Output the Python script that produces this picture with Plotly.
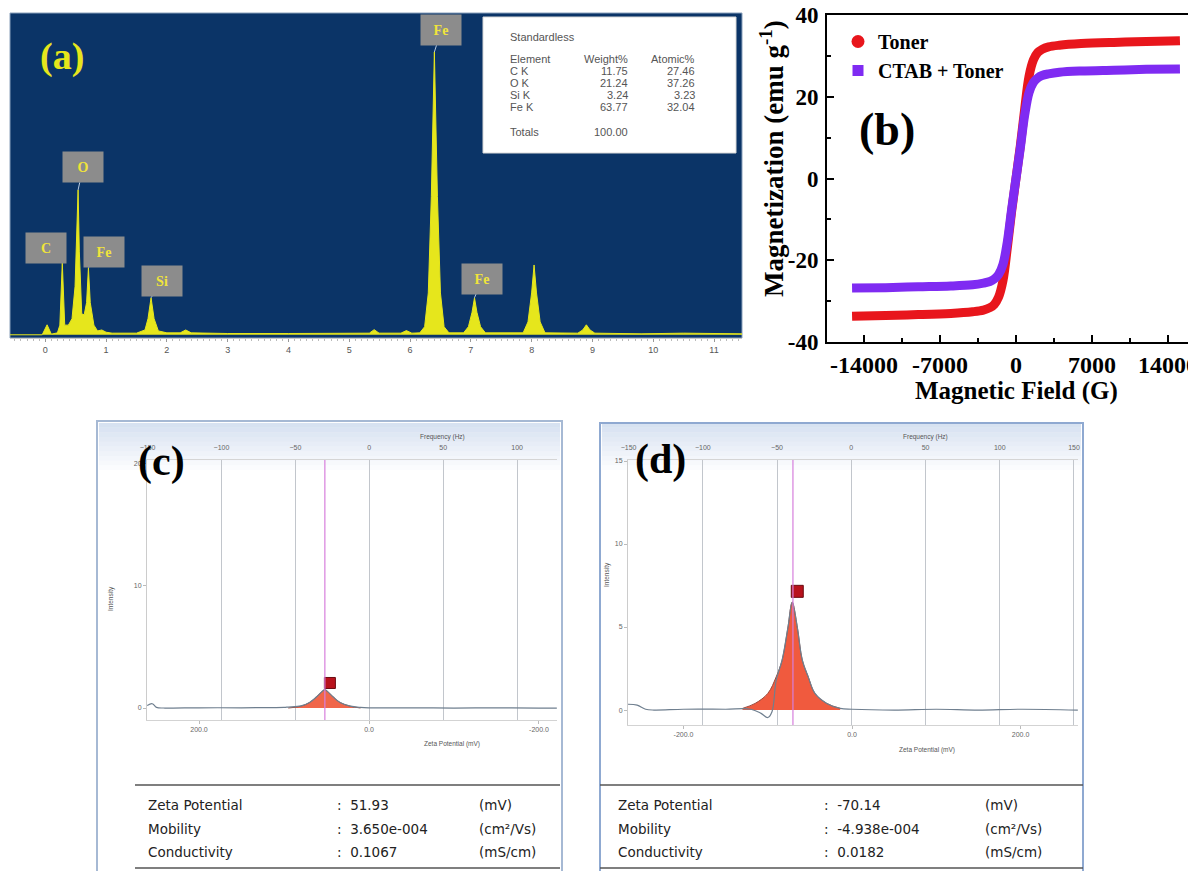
import plotly.graph_objects as go

# page has an 8px body margin: the figure is drawn 8px in from the top-left corner
OFF = 8
W, H = 1196 - OFF, 871 - OFF

def px(x):
    return (x - OFF) / W

def py(y):
    return 1 - (y - OFF) / H

# ---------------- data ----------------
# (a) EDS spectrum (keV, counts)
eds_energy = [-0.58, -0.05, 0.03, 0.1, 0.2, 0.24, 0.28, 0.32, 0.38, 0.44, 0.49, 0.52, 0.54, 0.56, 0.6,
              0.64, 0.68, 0.71, 0.74, 0.8, 0.86, 0.93, 1.0, 1.1, 1.5, 1.64, 1.69, 1.74, 1.79, 1.86,
              2.0, 2.22, 2.31, 2.4, 3.0, 4.0, 5.0, 5.33, 5.41, 5.49, 5.85, 5.94, 6.03, 6.16, 6.24,
              6.30, 6.35, 6.40, 6.45, 6.50, 6.56, 6.64, 6.88, 6.96, 7.02, 7.06, 7.10, 7.16, 7.24,
              7.86, 7.94, 8.0, 8.04, 8.08, 8.14, 8.22, 8.76, 8.84, 8.9, 8.96, 9.04, 9.8, 10.5, 11.46]
eds_counts = [0, 0, 31, 2, 6, 30, 224, 30, 30, 50, 150, 330, 450, 260, 65,
              62, 100, 208, 100, 30, 12, 15, 8, 5, 5, 15, 50, 115, 50, 12,
              6, 6, 15, 6, 4, 4, 4, 5, 16, 5, 5, 13, 5, 6, 25,
              130, 430, 879, 430, 130, 25, 6, 6, 25, 70, 115, 70, 25, 6,
              6, 40, 130, 217, 130, 40, 6, 5, 15, 31, 15, 5, 3, 5, 3]
eds_ticks = list(range(12))
eds_labels = ["C", "O", "Fe", "Si", "Fe", "Fe"]
eds_label_energy = [0.28, 0.54, 0.71, 1.74, 6.40, 7.06]
eds_label_counts = [224, 450, 208, 115, 879, 115]

table_elements = ["C K", "O K", "Si K", "Fe K"]
table_weight = ["11.75", "21.24", "3.24", "63.77"]
table_atomic = ["27.46", "37.26", "3.23", "32.04"]

# (b) magnetization loops
field_G = [-15100, -12000, -9000, -6000, -4000, -3000, -2400, -2000, -1600, -1200, -800, -400, 0,
           400, 800, 1200, 1600, 2000, 2400, 3000, 4000, 6000, 9000, 12000, 15100]
toner_M = [-33.7, -33.5, -33.3, -33.0, -32.6, -32.2, -31.6, -30.8, -29.0, -25.0, -17.0, -8.0, 0,
           8.0, 17.0, 25.0, 29.0, 30.8, 31.6, 32.2, 32.6, 33.0, 33.3, 33.5, 33.7]
ctab_M = [-26.8, -26.7, -26.5, -26.3, -26.0, -25.6, -25.2, -24.6, -23.5, -21.0, -15.5, -7.5, 0,
          7.5, 15.5, 21.0, 23.5, 24.6, 25.2, 25.6, 26.0, 26.3, 26.5, 26.7, 26.8]

# (c) zeta potential distribution, sample 1
zc_line_x = [261, 255, 250, 240, 200, 150, 120, 100, 95, 80, 70, 62, 56, 52, 48, 42, 34, 22, 10,
             0, -50, -100, -150, -200, -221]
zc_line_y = [0.2, 0.35, 0.05, 0.0, 0.02, 0.02, 0.03, 0.05, 0.08, 0.18, 0.45, 0.9, 1.3, 1.5, 1.3, 0.9,
             0.45, 0.15, 0.05, 0.02, 0.02, 0.0, 0.02, 0.0, 0.0]
zc_peak_x = [95, 80, 70, 62, 56, 52, 48, 42, 34, 22, 10]
zc_peak_y = [0.0, 0.15, 0.45, 0.9, 1.3, 1.5, 1.3, 0.9, 0.45, 0.15, 0.0]
zc_marker = (46, 2.05)
zc_value = 51.93

# (d) zeta potential distribution, sample 2
zd_line_x = [-266, -255, -245, -235, -200, -150, -120, -108, -100, -95, -90, -83, -76, -71, -65, -59,
             -52, -44, -30, -14, 0, 50, 100, 150, 200, 268]
zd_line_y = [0.35, 0.3, 0.05, 0.0, 0.05, 0.05, 0.05, -0.2, -0.45, -0.1, 1.8, 3.0, 5.0, 6.5, 5.0, 3.0,
             2.0, 1.0, 0.4, 0.1, 0.05, 0.0, 0.05, 0.0, 0.05, 0.0]
zd_peak_x = [-130, -115, -100, -90, -83, -76, -71, -65, -59, -52, -44, -30, -14]
zd_peak_y = [0.1, 0.4, 1.0, 2.0, 3.0, 5.0, 6.5, 5.0, 3.0, 2.0, 1.0, 0.4, 0.1]
zd_marker = (-65, 7.15)
zd_value = -70.14

zeta_rows = ["Zeta Potential", "Mobility", "Conductivity"]
zc_vals = [":  51.93", ":  3.650e-004", ":  0.1067"]
zd_vals = [":  -70.14", ":  -4.938e-004", ":  0.0182"]
zeta_units = ["(mV)", "(cm\u00b2/Vs)", "(mS/cm)"]

# ---------------- styles ----------------
NAVY = "#0b3467"
YEL = "#e6e61c"
RED = "#e8161c"
PURPLE = "#7f2bf2"
SERIF = "Liberation Serif"
GRAYTXT = "#666666"

fig = go.Figure()

# (a)
fig.add_trace(go.Scatter(x=eds_energy, y=eds_counts, xaxis="x", yaxis="y", mode="lines",
                         line=dict(color=YEL, width=1), fill="tozeroy", fillcolor=YEL,
                         showlegend=False, hoverinfo="skip"))

# (b)
fig.add_trace(go.Scatter(x=field_G, y=toner_M, xaxis="x2", yaxis="y2", mode="lines",
                         line=dict(color=RED, width=9, shape="spline"), showlegend=False))
fig.add_trace(go.Scatter(x=field_G, y=ctab_M, xaxis="x2", yaxis="y2", mode="lines",
                         line=dict(color=PURPLE, width=9, shape="spline"), showlegend=False))
fig.add_trace(go.Scatter(x=[None], y=[None], xaxis="x2", yaxis="y2", mode="markers", name="Toner",
                         marker=dict(symbol="circle", size=13, color=RED)))
fig.add_trace(go.Scatter(x=[None], y=[None], xaxis="x2", yaxis="y2", mode="markers", name="CTAB + Toner",
                         marker=dict(symbol="square", size=11, color=PURPLE)))

# (c)
fig.add_trace(go.Scatter(x=zc_peak_x, y=zc_peak_y, xaxis="x3", yaxis="y3", mode="lines",
                         line=dict(color="#9a4a3c", width=1, shape="spline"), fill="tozeroy",
                         fillcolor="#f0664a", showlegend=False))
fig.add_trace(go.Scatter(x=zc_line_x, y=zc_line_y, xaxis="x3", yaxis="y3", mode="lines",
                         line=dict(color="#6f7f8f", width=1.2, shape="spline"), showlegend=False))
fig.add_trace(go.Scatter(x=[zc_marker[0]], y=[zc_marker[1]], xaxis="x3", yaxis="y3", mode="markers",
                         marker=dict(symbol="square", size=11, color="#b8121c",
                                     line=dict(color="#6a0a10", width=1)), showlegend=False))
# frequency axis holder (no visible mark)
fig.add_trace(go.Scatter(x=[0], y=[0], xaxis="x4", yaxis="y3", mode="markers",
                         marker=dict(size=1, opacity=0), showlegend=False, hoverinfo="skip"))

# (d)
fig.add_trace(go.Scatter(x=zd_peak_x, y=zd_peak_y, xaxis="x5", yaxis="y4", mode="lines",
                         line=dict(color="#9a4a3c", width=1, shape="spline"), fill="tozeroy",
                         fillcolor="#f05a3e", showlegend=False))
fig.add_trace(go.Scatter(x=zd_line_x, y=zd_line_y, xaxis="x5", yaxis="y4", mode="lines",
                         line=dict(color="#6f7f8f", width=1.2, shape="spline"), showlegend=False))
fig.add_trace(go.Scatter(x=[zd_marker[0]], y=[zd_marker[1]], xaxis="x5", yaxis="y4", mode="markers",
                         marker=dict(symbol="square", size=12, color="#b8121c",
                                     line=dict(color="#6a0a10", width=1)), showlegend=False))
fig.add_trace(go.Scatter(x=[0], y=[0], xaxis="x6", yaxis="y4", mode="markers",
                         marker=dict(size=1, opacity=0), showlegend=False, hoverinfo="skip"))

small_font = dict(family="Liberation Sans", size=7, color=GRAYTXT)

layout_axes = dict(
    xaxis=dict(domain=[px(10), px(742)], range=[-0.58, 11.46], anchor="y", tickvals=eds_ticks,
               tickfont=dict(family="Liberation Sans", size=9, color="#555"), ticks="outside",
               ticklen=3, tickcolor="#999", showline=True, linecolor="#c8c8c8", showgrid=False,
               zeroline=False, automargin=False,
               minor=dict(ticks="outside", dtick=0.1, ticklen=2, tickcolor="#bbb")),
    yaxis=dict(domain=[py(338), py(13)], range=[-10, 1000], anchor="x", visible=False, automargin=False),
    xaxis2=dict(domain=[px(827), px(1196)], range=[-17408, 16580], anchor="y2",
                tickvals=[-14000, -7000, 0, 7000, 14000],
                ticktext=["-14000", "-7000", "0", "7000", "14000"],
                ticks="inside", ticklen=7, tickwidth=2, tickcolor="black",
                showline=True, linewidth=2, linecolor="black", mirror=True, showgrid=False,
                zeroline=False, automargin=False, ticklabeloverflow="allow",
                tickfont=dict(family=SERIF, size=24, color="black", weight="bold"),
                minor=dict(ticks="inside", tickvals=[-10500, -3500, 3500, 10500], ticklen=4,
                           tickwidth=2, tickcolor="black")),
    yaxis2=dict(domain=[py(342), py(15)], range=[-40, 40], anchor="x2",
                tickvals=[-40, -20, 0, 20, 40], ticktext=["-40", "-20", "0", "20", "40"],
                ticks="inside", ticklen=7, tickwidth=2, tickcolor="black",
                showline=True, linewidth=2, linecolor="black", showgrid=False, zeroline=False,
                automargin=False, ticklabelstandoff=2, ticklabeloverflow="allow",
                tickfont=dict(family=SERIF, size=23, color="black", weight="bold"),
                minor=dict(ticks="inside", tickvals=[-30, -10, 10, 30], ticklen=4,
                           tickwidth=2, tickcolor="black")),
    xaxis3=dict(domain=[px(147), px(557)], range=[261.2, -221.2], anchor="y3",
                tickvals=[200, 0, -200], ticktext=["200.0", "0.0", "-200.0"],
                ticks="outside", ticklen=3, tickcolor="#bbb", showline=True, linecolor="#d3d3d3",
                showgrid=False, zeroline=False, tickfont=small_font, automargin=False),
    xaxis4=dict(overlaying="x3", anchor="y3", side="top", range=[-150.4, 127],
                tickvals=[-150, -100, -50, 0, 50, 100], ticks="", showgrid=True,
                gridcolor="#c2c6cc", gridwidth=1, showline=True, linecolor="#d5d5d5",
                zeroline=False, tickfont=small_font, automargin=False, ticklabelstandoff=6),
    yaxis3=dict(domain=[py(720), py(460)], range=[-0.98, 20.3], anchor="x3",
                tickvals=[0, 10, 20], ticks="outside", ticklen=3, tickcolor="#bbb",
                showline=True, linecolor="#cccccc", showgrid=False, zeroline=False,
                tickfont=small_font, automargin=False),
    xaxis5=dict(domain=[px(628), px(1078)], range=[-265.9, 268.2], anchor="y4",
                tickvals=[-200, 0, 200], ticktext=["-200.0", "0.0", "200.0"],
                ticks="outside", ticklen=3, tickcolor="#bbb", showline=True, linecolor="#d3d3d3",
                showgrid=False, zeroline=False, tickfont=small_font, automargin=False),
    xaxis6=dict(overlaying="x5", anchor="y4", side="top", range=[-150.4, 152.7],
                tickvals=[-150, -100, -50, 0, 50, 100, 150], ticks="", showgrid=True,
                gridcolor="#c2c6cc", gridwidth=1, showline=True, linecolor="#d5d5d5",
                zeroline=False, tickfont=small_font, automargin=False, ticklabelstandoff=6),
    yaxis4=dict(domain=[py(725), py(460)], range=[-0.9, 15.06], anchor="x5",
                tickvals=[0, 5, 10, 15], ticks="outside", ticklen=3, tickcolor="#bbb",
                showline=True, linecolor="#cccccc", showgrid=False, zeroline=False,
                tickfont=small_font, automargin=False),
)

shapes = []
# navy background of (a)
shapes.append(dict(type="rect", xref="paper", yref="paper", x0=px(10), x1=px(742), y0=py(338), y1=py(13),
                   fillcolor=NAVY, line=dict(width=1, color="#8aa0bb"), layer="below"))
# white table in (a)
shapes.append(dict(type="rect", xref="paper", yref="paper", x0=px(483), x1=px(736), y0=py(153), y1=py(17),
                   fillcolor="white", line=dict(width=1, color="#d8d8d8"), layer="above"))

# window headers (gradient) for (c) and (d)
for (xl, xr) in [(99, 560), (602, 1081)]:
    nb = 10
    for i in range(nb):
        y0 = 423 + i * 4.7
        alpha = 0.6 * (1 - i / nb)
        shapes.append(dict(type="rect", xref="paper", yref="paper", x0=px(xl), x1=px(xr),
                           y0=py(y0 + 4.7), y1=py(y0), fillcolor=f"rgba(188,206,232,{alpha:.3f})",
                           line=dict(width=0), layer="below"))
# window frames
shapes.append(dict(type="rect", xref="paper", yref="paper", x0=px(97), x1=px(562), y0=py(875), y1=py(421),
                   line=dict(width=2, color="#a6b9d4"), fillcolor="rgba(0,0,0,0)"))
shapes.append(dict(type="rect", xref="paper", yref="paper", x0=px(600), x1=px(1083), y0=py(875), y1=py(423),
                   line=dict(width=2, color="#8fa9d1"), fillcolor="rgba(0,0,0,0)"))
# magenta reference lines
shapes.append(dict(type="line", xref="x3", yref="y3 domain", x0=zc_value, x1=zc_value, y0=0, y1=1,
                   line=dict(color="#d77fdc", width=1.2)))
shapes.append(dict(type="line", xref="x5", yref="y4 domain", x0=zd_value, x1=zd_value, y0=0, y1=1,
                   line=dict(color="#d77fdc", width=1.2)))
# table rules
for (xl, xr) in [(135, 560), (600, 1083)]:
    for yy in (785, 868):
        shapes.append(dict(type="line", xref="paper", yref="paper", x0=px(xl), x1=px(xr), y0=py(yy), y1=py(yy),
                           line=dict(color="#555555", width=1.5)))

ann = []

def txt(text, x, y, font, xanchor="center", **kw):
    d = dict(text=text, x=px(x), y=py(y), xref="paper", yref="paper", showarrow=False,
             xanchor=xanchor, yanchor="middle", font=font)
    d.update(kw)
    ann.append(d)

# (a) labels
txt("<b>(a)</b>", 62, 56, dict(family=SERIF, size=38, color="#e6e61c"))
offsets = [(-16, -15), (5, -23), (16, -16), (11, -17), (7, -22), (8, -19)]
for lab, e, c, (ax, ay) in zip(eds_labels, eds_label_energy, eds_label_counts, offsets):
    ann.append(dict(text=f"<b>{lab}</b>", x=e, y=c, xref="x", yref="y", ax=ax, ay=ay,
                    showarrow=True, arrowhead=0, arrowwidth=1, arrowcolor="#b9cbe0", standoff=0,
                    bgcolor="#8c8c8c", width=38, height=28, borderpad=1,
                    font=dict(family=SERIF, size=14, color="#f0e43a")))
tfont = dict(family="Liberation Sans", size=11, color="#555555")
txt("Standardless", 508, 37, tfont, "left")
txt("Element", 508, 59, tfont, "left")
txt("Weight%", 630, 59, tfont, "right")
txt("Atomic%", 697, 59, tfont, "right")
for i, (el, wv, av) in enumerate(zip(table_elements, table_weight, table_atomic)):
    yy = 71 + i * 12
    txt(el, 508, yy, tfont, "left")
    txt(wv, 630, yy, tfont, "right")
    txt(av, 697, yy, tfont, "right")
txt("Totals", 508, 132, tfont, "left")
txt("100.00", 630, 132, tfont, "right")

# (b) labels
txt("<b>(b)</b>", 887, 129, dict(family=SERIF, size=46, color="black"))
txt("<b>Magnetic Field (G)</b>", 1016, 391, dict(family=SERIF, size=25, color="black"))
txt("<b>Magnetization (emu g<sup>-1</sup>)</b>", 772, 159, dict(family=SERIF, size=27, color="black"),
    textangle=-90)

# (c)/(d) labels
for lab, cx, cy in [("(c)", 161, 461), ("(d)", 660, 459)]:
    txt(f"<b>{lab}</b>", cx, cy, dict(family=SERIF, size=42, color="black"))
for fx, fy in [(442, 437), (925, 437)]:
    txt("Frequency (Hz)", fx, fy, dict(family="Liberation Sans", size=6.5, color="#555"))
for zx, zy in [(452, 744), (927, 750)]:
    txt("Zeta Potential (mV)", zx, zy, dict(family="Liberation Sans", size=6.5, color="#555"))
for ix, iy in [(111, 598), (607, 575)]:
    txt("Intensity", ix, iy, dict(family="Liberation Sans", size=6.5, color="#555"), textangle=-90)

rfont = dict(family="DejaVu Sans", size=13.5, color="#222222")
for (x_lab, x_val, x_unit, vals) in [(146, 335, 477, zc_vals), (616, 822, 983, zd_vals)]:
    for i, (r, v, u) in enumerate(zip(zeta_rows, vals, zeta_units)):
        yy = 805 + i * 23.5
        txt(r, x_lab, yy, rfont, "left")
        txt(v, x_val, yy, rfont, "left")
        txt(u, x_unit, yy, rfont, "left")

fig.update_layout(
    width=W, height=H, autosize=False,
    margin=dict(l=0, r=0, t=0, b=0),
    paper_bgcolor="white", plot_bgcolor="rgba(0,0,0,0)",
    shapes=shapes, annotations=ann,
    legend=dict(x=px(838), y=py(22), xanchor="left", yanchor="top", bgcolor="rgba(0,0,0,0)",
                font=dict(family=SERIF, size=20, color="black", weight="bold"),
                itemwidth=30, tracegroupgap=0),
    **layout_axes,
)

fig.write_html("out.html")
